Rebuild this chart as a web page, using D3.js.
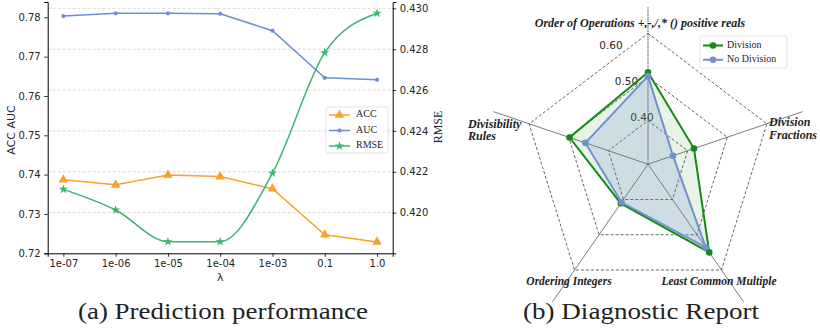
<!DOCTYPE html>
<html>
<head>
<meta charset="utf-8">
<script src="https://cdn.jsdelivr.net/npm/d3@7"></script>
<style>
  html, body { margin: 0; padding: 0; background: #fff; }
  svg { display: block; }
</style>
</head>
<body>
<div id="chart"></div>
<script>
// (a) prediction performance
const lambdas = ['1e-07', '1e-06', '1e-05', '1e-04', '1e-03', '0.1', '1.0'];
const acc = [0.7387, 0.7374, 0.7399, 0.7395, 0.7364, 0.7247, 0.7229];
const auc = [0.7803, 0.781, 0.781, 0.7809, 0.7766, 0.7646, 0.7641];
const rmse = [0.42114, 0.42013, 0.41858, 0.41858, 0.42193, 0.42783, 0.42976];
const leftTicks = [0.72, 0.73, 0.74, 0.75, 0.76, 0.77, 0.78];
const rightTicks = [0.42, 0.422, 0.424, 0.426, 0.428, 0.43];

// (b) diagnostic report
const skills = [
  'Order of Operations +,-,/,* () positive reals',
  'Division Fractions',
  'Least Common Multiple',
  'Ordering Integers',
  'Divisibility Rules',
];
const division = [0.511, 0.416, 0.55, 0.411, 0.498];
const noDivision = [0.502, 0.363, 0.536, 0.408, 0.458];
const ringTicks = [0.4, 0.5, 0.6];

const W = 820;
const H = 330;
const svg = d3.select('#chart').append('svg').attr('width', W).attr('height', H);

const C = { acc: '#f5a22f', auc: '#6b8fd6', rmse: '#3cb371', div: '#138a13', nodiv: '#7092d0' };
const sans = 'DejaVu Sans, sans-serif';
const serif = 'Liberation Serif, Times New Roman, serif';

// ---------- left chart ----------
const L = { left: 47.7, right: 392.7, top: 2, bottom: 253.3 };

const x = d3.scalePoint().domain(lambdas).range([L.left, L.right]).padding(0.3);
const yL = d3.scaleLinear().domain([0.72, 0.78389]).range([L.bottom, L.top]);
const yR = d3.scaleLinear().domain([0.41801, 0.43031]).range([L.bottom, L.top]);

const gA = svg.append('g');

// grid from right axis
gA.selectAll('line.grid')
  .data(rightTicks)
  .enter()
  .append('line')
  .attr('x1', L.left)
  .attr('x2', L.right)
  .attr('y1', (d) => yR(d))
  .attr('y2', (d) => yR(d))
  .attr('stroke', '#cfcfcf')
  .attr('stroke-width', 0.8)
  .attr('stroke-dasharray', '3,2');

const axL = gA.append('g')
  .attr('transform', `translate(${L.left},0)`)
  .call(d3.axisLeft(yL).tickValues(leftTicks).tickFormat(d3.format('.2f')).tickSizeOuter(0).tickSize(3.5).tickPadding(3.5));
const axR = gA.append('g')
  .attr('transform', `translate(${L.right},0)`)
  .call(d3.axisRight(yR).tickValues(rightTicks).tickFormat(d3.format('.3f')).tickSizeOuter(0).tickSize(3.5).tickPadding(3.5));
const axB = gA.append('g')
  .attr('transform', `translate(0,${L.bottom})`)
  .call(d3.axisBottom(x).tickSizeOuter(0).tickSize(3.5).tickPadding(3.5));

[axL, axR, axB].forEach((ax) => {
  ax.selectAll('text').attr('font-family', sans).attr('font-size', 10).attr('fill', '#262626');
  ax.selectAll('line').attr('stroke', '#000').attr('stroke-width', 0.8);
  ax.select('.domain').attr('stroke', '#000').attr('stroke-width', 1);
});

gA.append('text')
  .attr('transform', `translate(12,130) rotate(-90)`)
  .attr('text-anchor', 'middle')
  .attr('dominant-baseline', 'middle')
  .attr('font-family', sans)
  .attr('font-size', 11)
  .attr('fill', '#262626')
  .text('ACC  AUC');

gA.append('text')
  .attr('transform', `translate(439,127) rotate(-90)`)
  .attr('text-anchor', 'middle')
  .attr('dominant-baseline', 'middle')
  .attr('font-family', serif)
  .attr('font-size', 12)
  .attr('fill', '#262626')
  .text('RMSE');

gA.append('text')
  .attr('x', (L.left + L.right) / 2)
  .attr('y', 281)
  .attr('text-anchor', 'middle')
  .attr('font-family', sans)
  .attr('font-size', 11)
  .attr('fill', '#262626')
  .text('λ');

const series = [
  { name: 'ACC', values: acc, y: yL, color: C.acc, marker: d3.symbolTriangle, size: 40, curve: d3.curveLinear },
  { name: 'AUC', values: auc, y: yL, color: C.auc, marker: d3.symbolCircle, size: 14, curve: d3.curveLinear },
  { name: 'RMSE', values: rmse, y: yR, color: C.rmse, marker: d3.symbolStar, size: 26, curve: d3.curveMonotoneX },
];

series.forEach((s) => {
  const line = d3.line()
    .x((d, i) => x(lambdas[i]))
    .y((d) => s.y(d))
    .curve(s.curve);
  gA.append('path')
    .datum(s.values)
    .attr('d', line)
    .attr('fill', 'none')
    .attr('stroke', s.color)
    .attr('stroke-width', 1.5);
  gA.selectAll(null)
    .data(s.values)
    .enter()
    .append('path')
    .attr('d', d3.symbol(s.marker, s.size))
    .attr('transform', (d, i) => `translate(${x(lambdas[i])},${s.y(d)})`)
    .attr('fill', s.color);
});

// legend (a)
const legA = gA.append('g').attr('transform', 'translate(326,107)');
legA.append('rect')
  .attr('width', 62)
  .attr('height', 46)
  .attr('rx', 2)
  .attr('fill', '#fff')
  .attr('fill-opacity', 0.85)
  .attr('stroke', '#dcdcdc')
  .attr('stroke-width', 0.8);
series.forEach((s, i) => {
  const ly = 8 + i * 15.5;
  legA.append('line')
    .attr('x1', 3).attr('x2', 24)
    .attr('y1', ly).attr('y2', ly)
    .attr('stroke', s.color)
    .attr('stroke-width', 1.5);
  legA.append('path')
    .attr('d', d3.symbol(s.marker, s.size))
    .attr('transform', `translate(13.5,${ly})`)
    .attr('fill', s.color);
  legA.append('text')
    .attr('x', 30)
    .attr('y', ly)
    .attr('dominant-baseline', 'middle')
    .attr('font-family', serif)
    .attr('font-size', 10)
    .attr('fill', '#262626')
    .text(s.name);
});

// ---------- radar ----------
const cx = 648;
const cy = 164.2;
const rx = 125;
const ry = 130.8;
const n = skills.length;
const angle = (2 * Math.PI) / n;
const r = d3.scaleLinear().domain([0.3, 0.6]).range([0, 1]);
const pt = (i, v) => [cx + rx * r(v) * Math.sin(angle * i), cy - ry * r(v) * Math.cos(angle * i)];

const gB = svg.append('g');

// spokes
skills.forEach((s, i) => {
  const [ex, ey] = pt(i, i === 0 ? 0.66 : 0.69);
  gB.append('line')
    .attr('x1', cx)
    .attr('y1', cy)
    .attr('x2', ex)
    .attr('y2', ey)
    .attr('stroke', i === 0 ? '#8a8a8a' : '#222')
    .attr('stroke-width', i === 0 ? 1.6 : 0.6)
    .attr('stroke-dasharray', i === 0 ? '1.2,0.8' : null);
});

// rings
ringTicks.forEach((t) => {
  gB.append('polygon')
    .attr('points', skills.map((s, i) => pt(i, t).join(',')).join(' '))
    .attr('fill', 'none')
    .attr('stroke', '#222')
    .attr('stroke-width', 0.7)
    .attr('stroke-dasharray', '3,2');
});

// ring labels sit a little left of the top spoke, slightly inside each ring
ringTicks.forEach((t) => {
  gB.append('text')
    .attr('x', cx - 46.5 * r(t) + 9.5)
    .attr('y', cy - ry * r(t) * 0.83 - 10)
    .attr('text-anchor', 'middle')
    .attr('dominant-baseline', 'middle')
    .attr('font-family', sans)
    .attr('font-size', 10.5)
    .attr('fill', '#262626')
    .text(d3.format('.2f')(t));
});

const radarSeries = [
  { name: 'Division', values: division, color: C.div, fillOp: 0.1 },
  { name: 'No Division', values: noDivision, color: C.nodiv, fillOp: 0.22 },
];

radarSeries.forEach((s) => {
  const pts = s.values.map((v, i) => pt(i, v));
  gB.append('polygon')
    .attr('points', pts.map((p) => p.join(',')).join(' '))
    .attr('fill', s.color)
    .attr('fill-opacity', s.fillOp)
    .attr('stroke', 'none');
});
radarSeries.forEach((s) => {
  const pts = s.values.map((v, i) => pt(i, v));
  gB.append('polygon')
    .attr('points', pts.map((p) => p.join(',')).join(' '))
    .attr('fill', 'none')
    .attr('stroke', s.color)
    .attr('stroke-width', 2);
  pts.forEach(([px, py]) => {
    gB.append('circle').attr('cx', px).attr('cy', py).attr('r', 3.3).attr('fill', s.color);
  });
});

// skill labels
const labelStyle = (t) =>
  t.attr('font-family', serif)
    .attr('font-weight', 'bold')
    .attr('font-style', 'italic')
    .attr('fill', '#222');

gB.append('text').call(labelStyle)
  .attr('x', cx - 8).attr('y', 27).attr('text-anchor', 'middle').attr('font-size', 12)
  .text(skills[0]);

const fr = gB.append('text').call(labelStyle).attr('font-size', 12);
fr.append('tspan').attr('x', 769).attr('y', 126).text(skills[1].split(' ')[0]);
fr.append('tspan').attr('x', 769).attr('y', 138.5).text(skills[1].split(' ')[1]);

gB.append('text').call(labelStyle)
  .attr('x', 719).attr('y', 285).attr('text-anchor', 'middle').attr('font-size', 11.5)
  .text(skills[2]);

gB.append('text').call(labelStyle)
  .attr('x', 569).attr('y', 285).attr('text-anchor', 'middle').attr('font-size', 11.5)
  .text(skills[3]);

const dr = gB.append('text').call(labelStyle).attr('font-size', 12);
dr.append('tspan').attr('x', 468).attr('y', 127.5).text(skills[4].split(' ')[0]);
dr.append('tspan').attr('x', 468).attr('y', 140).text(skills[4].split(' ')[1]);

// legend (b)
const legB = gB.append('g').attr('transform', 'translate(700,36)');
legB.append('rect')
  .attr('width', 87)
  .attr('height', 32)
  .attr('rx', 2)
  .attr('fill', '#fff')
  .attr('fill-opacity', 0.85)
  .attr('stroke', '#dcdcdc')
  .attr('stroke-width', 0.8);
radarSeries.forEach((s, i) => {
  const ly = 9.5 + i * 14.3;
  legB.append('line')
    .attr('x1', 3).attr('x2', 23)
    .attr('y1', ly).attr('y2', ly)
    .attr('stroke', s.color)
    .attr('stroke-width', 2);
  legB.append('circle').attr('cx', 13).attr('cy', ly).attr('r', 3.3).attr('fill', s.color);
  legB.append('text')
    .attr('x', 27)
    .attr('y', ly)
    .attr('dominant-baseline', 'middle')
    .attr('font-family', serif)
    .attr('font-size', 10)
    .attr('fill', '#262626')
    .text(s.name);
});

// captions
[
  { text: '(a) Prediction performance', x: 223, len: 290 },
  { text: '(b) Diagnostic Report', x: 641, len: 236 },
].forEach((c) => {
  svg.append('text')
    .attr('x', c.x)
    .attr('y', 319)
    .attr('text-anchor', 'middle')
    .attr('font-family', serif)
    .attr('font-size', 23)
    .attr('fill', '#222')
    .attr('textLength', c.len)
    .attr('lengthAdjust', 'spacingAndGlyphs')
    .text(c.text);
});
</script>
</body>
</html>
